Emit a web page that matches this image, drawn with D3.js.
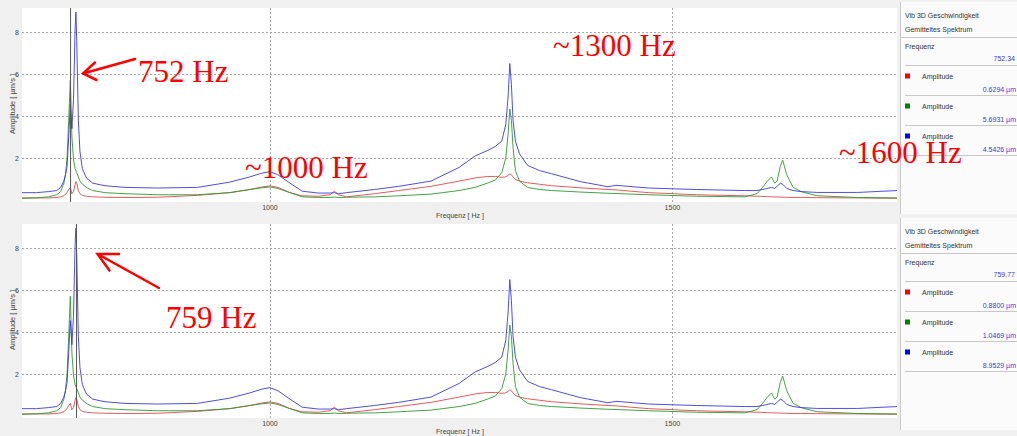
<!DOCTYPE html>
<html><head><meta charset="utf-8">
<script src="https://cdn.jsdelivr.net/npm/d3@7/dist/d3.min.js"></script>
<style>html,body{margin:0;padding:0;background:#f0f0f0;overflow:hidden}</style>
</head><body><svg id="c" width="1017" height="436"></svg>
<script>
// Frequency grid (Hz)
const freq = [692,710,725,735,740,744,746,748,750,752,754,756,758,759,760,762,764,767,772,780,795,820,860,910,950,975,990,1000,1010,1025,1040,1060,1075,1080,1085,1095,1130,1160,1200,1235,1255,1270,1280,1288,1293,1296,1298,1300,1302,1305,1310,1320,1335,1350,1385,1420,1430,1470,1530,1590,1605,1612,1618,1623,1627,1630,1634,1637,1642,1650,1660,1680,1730,1779];
// Amplitude [µm/s] per series
const redAmp   = [0.10,0.10,0.10,0.12,0.15,0.20,0.28,0.35,0.50,0.60,0.30,0.40,0.75,0.88,0.80,0.45,0.30,0.22,0.18,0.15,0.13,0.12,0.13,0.22,0.35,0.50,0.62,0.67,0.60,0.35,0.20,0.18,0.25,0.43,0.25,0.15,0.30,0.45,0.65,0.90,1.05,1.12,1.12,1.08,1.10,1.18,1.24,1.20,1.10,0.98,0.90,0.82,0.75,0.68,0.58,0.50,0.48,0.35,0.25,0.20,0.18,0.17,0.16,0.15,0.15,0.14,0.14,0.13,0.13,0.12,0.12,0.11,0.10,0.08];
const greenAmp = [0.08,0.10,0.15,0.25,0.40,0.80,1.20,2.00,3.80,5.70,3.00,1.90,1.50,1.40,1.30,1.10,0.90,0.75,0.60,0.45,0.35,0.30,0.25,0.25,0.35,0.50,0.58,0.62,0.55,0.35,0.15,0.12,0.12,0.14,0.12,0.13,0.15,0.20,0.28,0.45,0.60,0.80,0.95,1.30,2.00,3.20,4.33,3.80,2.50,1.40,0.90,0.60,0.50,0.45,0.38,0.32,0.31,0.25,0.18,0.15,0.30,0.60,0.90,1.10,0.80,0.90,1.60,1.90,1.20,0.60,0.40,0.20,0.12,0.10];
const blueAmp  = [0.35,0.35,0.40,0.45,0.60,0.90,1.20,1.60,3.00,4.54,3.40,4.80,8.20,8.95,7.60,3.80,2.30,1.50,1.05,0.80,0.68,0.60,0.57,0.60,0.85,1.10,1.28,1.35,1.20,0.80,0.42,0.33,0.33,0.35,0.30,0.35,0.50,0.65,0.90,1.55,2.10,2.35,2.55,2.80,3.60,5.00,6.50,5.50,3.80,2.80,2.20,1.65,1.40,1.25,0.88,0.63,0.70,0.57,0.50,0.45,0.45,0.50,0.55,0.60,0.55,0.65,0.80,0.75,0.55,0.45,0.40,0.36,0.36,0.45];
const xTicks = [1000, 1500];
const yTicks = [2, 4, 6, 8];
// Cursor / legend readouts per panel
const cursorFreq = [752.34, 759.77];
const cursorLabel = ["752.34", "759.77"];
const legendRed = ["0.6294 µm", "0.8800 µm"];
const legendGreen = ["5.6931 µm", "1.0469 µm"];
const legendBlue = ["4.5426 µm", "8.9529 µm"];
// Annotations
const notes = [
  {t:"752 Hz", x:138, y:82},
  {t:"~1300 Hz", x:553, y:56},
  {t:"~1000 Hz", x:245, y:178},
  {t:"~1600 Hz", x:839, y:163},
  {t:"759 Hz", x:166, y:328}
];

const svg = d3.select("#c");
const FONT = "'Liberation Sans', Arial, sans-serif";
svg.append("rect").attr("width",1017).attr("height",436).attr("fill","#f0f0f0");

const x = d3.scaleLinear().domain([692,1779]).range([22,897]);
const series = [
  {v: redAmp, c: "#e5484b"},
  {v: greenAmp, c: "#2f9a2f"},
  {v: blueAmp, c: "#3b3be3"}
];

[0,1].forEach(p => {
  const off = p*216;
  const y = d3.scaleLinear().domain([0,8]).range([200+off, 32+off]);
  const g = svg.append("g");
  g.append("rect").attr("x",22).attr("y",8+off).attr("width",875).attr("height",194).attr("fill","#ffffff");
  g.selectAll(".hg").data(yTicks).enter().append("line")
    .attr("x1",22).attr("x2",897).attr("y1",d=>y(d)+0.5).attr("y2",d=>y(d)+0.5)
    .attr("stroke","#aaaaaa").attr("stroke-dasharray","2,2").attr("stroke-width",1);
  g.selectAll(".vg").data(xTicks).enter().append("line")
    .attr("x1",d=>Math.round(x(d))+0.5).attr("x2",d=>Math.round(x(d))+0.5).attr("y1",8+off).attr("y2",202+off)
    .attr("stroke","#aaaaaa").attr("stroke-dasharray","2,2").attr("stroke-width",1);
  g.selectAll(".yl").data(yTicks).enter().append("text")
    .attr("x",19).attr("y",d=>y(d)+2.5).attr("text-anchor","end")
    .attr("font-family",FONT).attr("font-size",7).attr("fill","#444").text(d=>d);
  g.selectAll(".xl").data(xTicks).enter().append("text")
    .attr("x",d=>x(d)).attr("y",210+off).attr("text-anchor","middle")
    .attr("font-family",FONT).attr("font-size",7).attr("fill","#444").text(d=>d);
  g.append("text").attr("x",460).attr("y",218+off).attr("text-anchor","middle")
    .attr("font-family",FONT).attr("font-size",7).attr("fill","#444").text("Frequenz [ Hz ]");
  g.append("text").attr("transform",`translate(15,${104+off}) rotate(-90)`).attr("text-anchor","middle")
    .attr("font-family",FONT).attr("font-size",7.5).attr("fill","#444").text("Amplitude [ µm/s ]");
  const clipId = "clip"+p;
  svg.append("clipPath").attr("id",clipId).append("rect").attr("x",22).attr("y",8+off).attr("width",875).attr("height",194);
  const cg = g.append("g").attr("clip-path",`url(#${clipId})`);
  series.forEach(s => {
    const line = d3.line().x((d,i)=>x(freq[i])).y(d=>y(d));
    cg.append("path").attr("d",line(s.v)).attr("fill","none").attr("stroke",s.c).attr("stroke-width",1).attr("stroke-opacity",0.9);
  });
  cg.append("line").attr("x1",x(cursorFreq[p])).attr("x2",x(cursorFreq[p])).attr("y1",8+off).attr("y2",202+off)
    .attr("stroke","#555").attr("stroke-width",1);
  // legend panel
  const lg = svg.append("g");
  lg.append("rect").attr("x",900).attr("y",2+off).attr("width",117).attr("height",212).attr("fill","#fbfbfb");
  lg.append("line").attr("x1",900.5).attr("x2",900.5).attr("y1",2+off).attr("y2",214+off).attr("stroke","#c8c8c8");
  const T = (tx,ty,str,col,anchor) => lg.append("text").attr("x",tx).attr("y",ty+off).attr("text-anchor",anchor||"start")
    .attr("font-family",FONT).attr("font-size",7).attr("fill",col).text(str);
  T(905,18,"Vib 3D Geschwindigkeit","#333");
  T(905,32,"Gemitteltes Spektrum","#333");
  T(905,49,"Frequenz","#333");
  T(1015,61,cursorLabel[p],"#3c3cd8","end");
  const HL = (yy,x1) => lg.append("line").attr("x1",x1).attr("x2",1017).attr("y1",yy+off+0.5).attr("y2",yy+off+0.5).attr("stroke","#c8c8c8");
  HL(37,901); HL(65,905); HL(95,905); HL(125,905); HL(155,905);
  const ent = [["#ff0000",legendRed[p]],["#008000",legendGreen[p]],["#0000ff",legendBlue[p]]];
  ent.forEach((e,i)=>{
    const yy = 76 + i*30;
    lg.append("rect").attr("x",905).attr("y",yy-2.5+off).attr("width",5).attr("height",5).attr("fill",e[0]);
    T(922,yy+2.5,"Amplitude","#333");
    T(1016,yy+15.5,e[1],"#3c3cd8","end");
  });
});

svg.selectAll(".note").data(notes).enter().append("text")
  .attr("x",d=>d.x).attr("y",d=>d.y).attr("font-family","'Liberation Serif','Times New Roman',serif")
  .attr("font-size",31).attr("fill","#ff0000").text(d=>d.t);
const arrows = [
  {tail:[135,59], tip:[83,73.5], h1:[95,62.5], h2:[96.5,80]},
  {tail:[159,288], tip:[97.5,254], h1:[119,254], h2:[109.5,270.5]}
];
arrows.forEach(a=>{
  const p = d3.path();
  p.moveTo(a.tail[0],a.tail[1]); p.lineTo(a.tip[0],a.tip[1]);
  p.moveTo(a.h1[0],a.h1[1]); p.lineTo(a.tip[0],a.tip[1]); p.lineTo(a.h2[0],a.h2[1]);
  svg.append("path").attr("d",p.toString()).attr("fill","none").attr("stroke","#ff0000").attr("stroke-width",2.5).attr("stroke-linecap","round");
});
</script></body></html>
